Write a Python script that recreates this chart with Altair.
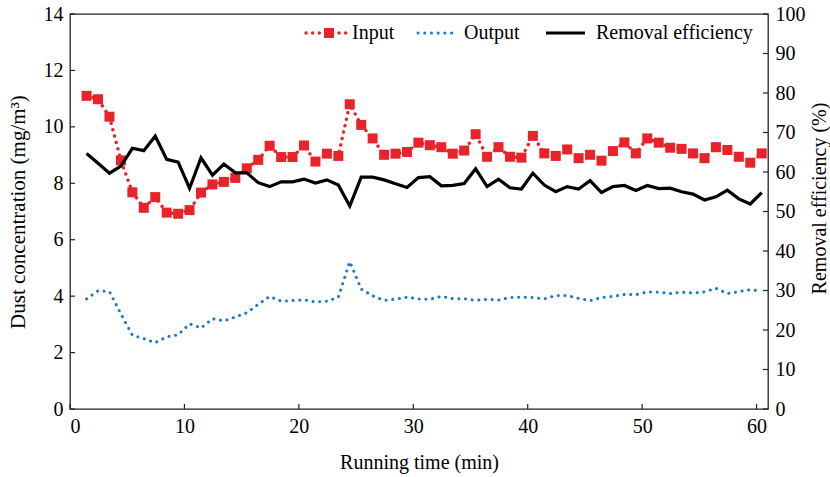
import altair as alt
import pandas as pd

# ---------------- data ----------------
times = [1.45, 2.45, 3.45, 4.45, 5.45, 6.45, 7.45, 8.45, 9.45, 10.45,
         11.45, 12.45, 13.45, 14.45, 15.45, 16.45, 17.45, 18.45, 19.45, 20.45,
         21.45, 22.45, 23.45, 24.45, 25.45, 26.45, 27.45, 28.45, 29.45, 30.45,
         31.45, 32.45, 33.45, 34.45, 35.45, 36.45, 37.45, 38.45, 39.45, 40.45,
         41.45, 42.45, 43.45, 44.45, 45.45, 46.45, 47.45, 48.45, 49.45, 50.45,
         51.45, 52.45, 53.45, 54.45, 55.45, 56.45, 57.45, 58.45, 59.45, 60.45]

input_conc = [11.10, 10.98, 10.36, 8.81, 7.68, 7.13, 7.51, 6.96, 6.92, 7.05,
              7.67, 7.96, 8.05, 8.19, 8.53, 8.83, 9.33, 8.93, 8.93, 9.34,
              8.77, 9.05, 8.97, 10.80, 10.07, 9.59, 9.01, 9.05, 9.11, 9.44,
              9.35, 9.28, 9.05, 9.16, 9.74, 8.94, 9.28, 8.94, 8.91, 9.68,
              9.06, 8.97, 9.20, 8.89, 9.01, 8.80, 9.14, 9.45, 9.06, 9.59,
              9.44, 9.26, 9.22, 9.06, 8.89, 9.28, 9.18, 8.94, 8.73, 9.06]

output_conc = [3.90, 4.19, 4.16, 3.37, 2.62, 2.49, 2.35, 2.56, 2.63, 3.02,
               2.87, 3.20, 3.12, 3.26, 3.41, 3.71, 3.99, 3.82, 3.84, 3.87,
               3.79, 3.82, 3.96, 5.22, 4.25, 4.01, 3.85, 3.89, 3.96, 3.90,
               3.89, 3.99, 3.91, 3.91, 3.85, 3.89, 3.86, 3.95, 3.96, 3.95,
               3.90, 4.02, 4.02, 3.92, 3.84, 3.95, 3.99, 4.06, 4.05, 4.15,
               4.15, 4.09, 4.14, 4.11, 4.15, 4.28, 4.09, 4.16, 4.23, 4.18]

efficiency = [64.7, 62.2, 59.7, 61.5, 66.0, 65.4, 69.1, 63.2, 62.5, 55.9,
              63.6, 59.2, 62.0, 59.8, 59.8, 57.3, 56.3, 57.5, 57.5, 58.2,
              57.2, 58.0, 56.7, 51.4, 58.7, 58.7, 58.0, 57.0, 56.1, 58.6,
              58.8, 56.5, 56.6, 57.1, 60.8, 56.3, 58.2, 56.0, 55.7, 59.7,
              56.7, 55.0, 56.3, 55.7, 57.8, 54.8, 56.3, 56.6, 55.3, 56.6,
              55.8, 55.9, 55.0, 54.4, 52.9, 53.7, 55.4, 53.2, 51.9, 54.8]

x_ticks = [0, 10, 20, 30, 40, 50, 60]
left_ticks = [0, 2, 4, 6, 8, 10, 12, 14]
right_ticks = [0, 10, 20, 30, 40, 50, 60, 70, 80, 90, 100]
series_names = ["Input", "Output", "Removal efficiency"]

# ---------------- styles ----------------
RED = "#e8232a"
BLUE = "#1f78c8"
BLACK = "#000000"
AXC = "#222222"
FONT = "Liberation Serif"
W, H = 698, 395

df = pd.DataFrame({"t": times, "input": input_conc,
                   "output": output_conc, "eff": efficiency})
base = alt.Chart(df)

xscale = alt.Scale(domain=[0, 61], nice=False, zero=False)
lscale = alt.Scale(domain=[0, 14], nice=False)
rscale = alt.Scale(domain=[0, 100], nice=False)

XAX = alt.Axis(values=x_ticks, title="Running time (min)", ticks=False,
               tickSize=0, grid=False, domain=False, labelPadding=7,
               titlePadding=16, labelFontSize=20, titleFontSize=20)
LAX = alt.Axis(values=left_ticks, title="Dust concentration (mg/m³)",
               ticks=False, tickSize=0, grid=False, domain=False,
               labelPadding=7, titlePadding=15,
               labelFontSize=20, titleFontSize=21)
RAX = alt.Axis(orient="right", values=right_ticks,
               title="Removal efficiency (%)", ticks=False, tickSize=0,
               grid=False, domain=False, labelPadding=7, titlePadding=4,
               titleAngle=270, titleBaseline="top", titleY=184,
               labelFontSize=20, titleFontSize=20)

X = alt.X("t:Q", scale=xscale, axis=XAX)

input_line = base.mark_line(color=RED, strokeWidth=3.4, strokeDash=[0.1, 6.5],
                            strokeCap="round").encode(
    x=X, y=alt.Y("input:Q", scale=lscale, axis=LAX))
input_pts = base.mark_point(shape="square", filled=True, size=100, color=RED,
                            opacity=1).encode(
    x=X, y=alt.Y("input:Q", scale=lscale, axis=LAX))
output_line = base.mark_line(color=BLUE, strokeWidth=3.0, strokeDash=[0.1, 6.6],
                             strokeCap="round").encode(
    x=X, y=alt.Y("output:Q", scale=lscale, axis=LAX))

left_tick_marks = alt.Chart(pd.DataFrame({"v": left_ticks})).mark_rule(
    color=AXC, strokeWidth=1.2).encode(
    y=alt.Y("v:Q", scale=lscale, axis=LAX), x=alt.value(0), x2=alt.value(5))
x_tick_marks = alt.Chart(pd.DataFrame({"v": x_ticks})).mark_rule(
    color=AXC, strokeWidth=1.2).encode(
    x=alt.X("v:Q", scale=xscale, axis=XAX), y=alt.value(H), y2=alt.value(H - 5))

# legend (manual, to show the square on the dotted input line)
one = pd.DataFrame({"k": [0]})
leg_y = 19
leg_in_line = alt.Chart(one).mark_rule(color=RED, strokeWidth=3.4,
                                       strokeDash=[0.1, 6.5], strokeCap="round").encode(
    x=alt.value(236), x2=alt.value(276), y=alt.value(leg_y))
leg_in_pt = alt.Chart(one).mark_point(shape="square", filled=True, size=100,
                                      color=RED, opacity=1).encode(
    x=alt.value(259), y=alt.value(leg_y))
leg_out_line = alt.Chart(one).mark_rule(color=BLUE, strokeWidth=3.0,
                                        strokeDash=[0.1, 6.6], strokeCap="round").encode(
    x=alt.value(348), x2=alt.value(387), y=alt.value(leg_y))
leg_eff_line = alt.Chart(one).mark_rule(color=BLACK, strokeWidth=3.2).encode(
    x=alt.value(476), x2=alt.value(515), y=alt.value(leg_y))
txt = dict(font=FONT, fontSize=20, baseline="middle", align="left", color="black")
leg_t1 = alt.Chart(one).mark_text(text=series_names[0], **txt).encode(
    x=alt.value(282), y=alt.value(leg_y))
leg_t2 = alt.Chart(one).mark_text(text=series_names[1], **txt).encode(
    x=alt.value(394), y=alt.value(leg_y))
leg_t3 = alt.Chart(one).mark_text(text=series_names[2], **txt).encode(
    x=alt.value(526), y=alt.value(leg_y))

left_group = alt.layer(input_line, output_line, input_pts, left_tick_marks,
                       x_tick_marks, leg_in_line, leg_in_pt, leg_out_line,
                       leg_eff_line, leg_t1, leg_t2, leg_t3)

eff_line = base.mark_line(color=BLACK, strokeWidth=3.2).encode(
    x=X, y=alt.Y("eff:Q", scale=rscale, axis=RAX))
right_tick_marks = alt.Chart(pd.DataFrame({"v": right_ticks})).mark_rule(
    color=AXC, strokeWidth=1.2).encode(
    y=alt.Y("v:Q", scale=rscale, axis=RAX), x=alt.value(W - 5), x2=alt.value(W))

right_group = alt.layer(eff_line, right_tick_marks)

chart = alt.layer(left_group, right_group).resolve_scale(y="independent").properties(
    width=W, height=H,
    padding={"left": 70, "top": 14, "right": 62, "bottom": 68},
    autosize=alt.AutoSizeParams(type="none"),
    background="white",
).configure_view(stroke=AXC, strokeWidth=1.3).configure_axis(
    labelFont=FONT, titleFont=FONT, labelColor="black", titleColor="black",
    titleFontWeight="normal",
)

chart.save("out.html", embed_options={"renderer": "svg", "actions": False})
